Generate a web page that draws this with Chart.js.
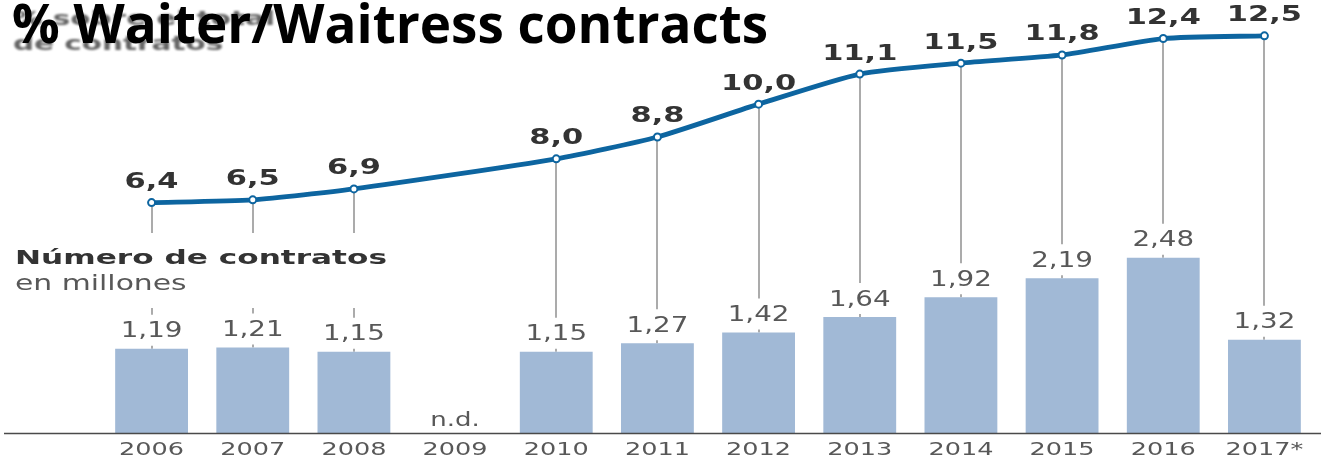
<!DOCTYPE html>
<html>
<head>
<meta charset="utf-8">
<script src="https://cdn.jsdelivr.net/npm/chart.js@4/dist/chart.umd.min.js"></script>
<style>
  html, body { margin: 0; padding: 0; background: #ffffff; }
  #wrap { position: relative; width: 1321px; height: 459px; }
</style>
</head>
<body>
<div id="wrap"><canvas id="chart" width="1321" height="459"></canvas></div>
<script>
// Years on the category axis
const years = ['2006', '2007', '2008', '2009', '2010', '2011', '2012', '2013', '2014', '2015', '2016', '2017*'];
// Share of all contracts (%) — no data for 2009
const sharePct = [6.4, 6.5, 6.9, null, 8.0, 8.8, 10.0, 11.1, 11.5, 11.8, 12.4, 12.5];
// Number of contracts, in millions — no data for 2009
const contractsM = [1.19, 1.21, 1.15, null, 1.15, 1.27, 1.42, 1.64, 1.92, 2.19, 2.48, 1.32];
// Label shown where a year has no data
const noDataLabel = 'n.d.';

const titleText = '% Waiter/Waitress contracts';
const subtitleLines = ['% sobre el total', 'de contratos'];
const barHeading = 'Número de contratos';
const barUnits = 'en millones';

const LINE_BLUE = '#0d65a0';
const BAR_BLUE = '#a1b9d6';
const DROP_GREY = '#ababab';
const TEXT_GREY = '#585858';
const DARK_TEXT = '#333333';

// Spanish decimal comma
function fmt(v, d) { return v.toFixed(d).replace('.', ','); }

// Text drawn with a horizontal stretch factor, centred or left-aligned
function stretchText(ctx, text, x, y, font, color, sx, align) {
  ctx.save();
  ctx.font = font;
  ctx.fillStyle = color;
  ctx.textBaseline = 'middle';
  ctx.textAlign = align || 'center';
  ctx.translate(x, y);
  ctx.scale(sx, 1);
  ctx.fillText(text, 0, 0);
  ctx.restore();
}

const LEGEND_X = 15;
const LEGEND_Y1 = 259;
const LEGEND_Y2 = 285;
const LEGEND_GAP = [233, 308];
const LEGEND_RIGHT = 400;

// Grey drop lines from each point of the line down to its bar
const dropLines = {
  id: 'dropLines',
  beforeDatasetsDraw(chart) {
    const ctx = chart.ctx;
    const x = chart.scales.x;
    const yL = chart.scales.yLine;
    const yB = chart.scales.yBar;
    ctx.save();
    ctx.strokeStyle = DROP_GREY;
    ctx.lineWidth = 2;
    years.forEach((_, i) => {
      if (sharePct[i] == null || contractsM[i] == null) return;
      const px = Math.round(x.getPixelForValue(i));
      const top = yL.getPixelForValue(sharePct[i]) + 4;
      const barTop = yB.getPixelForValue(contractsM[i]);
      const end = barTop - 34;
      const segs = [];
      if (px < LEGEND_RIGHT) {
        segs.push([top, LEGEND_GAP[0]]);
        segs.push([LEGEND_GAP[1], end]);
      } else {
        segs.push([top, end]);
      }
      segs.push([barTop - 3, barTop]);
      segs.forEach(([a, b]) => {
        if (b <= a) return;
        ctx.beginPath();
        ctx.moveTo(px, a);
        ctx.lineTo(px, b);
        ctx.stroke();
      });
    });
    ctx.restore();
  }
};

// Value labels, axis labels, headings and baseline
const annotations = {
  id: 'annotations',
  afterDatasetsDraw(chart) {
    const ctx = chart.ctx;
    const x = chart.scales.x;
    const yL = chart.scales.yLine;
    const yB = chart.scales.yBar;
    const base = yB.getPixelForValue(0);

    // baseline across the full width
    ctx.save();
    ctx.strokeStyle = '#4a4a4a';
    ctx.lineWidth = 1.5;
    ctx.beginPath();
    ctx.moveTo(4, base + 0.5);
    ctx.lineTo(chart.width, base + 0.5);
    ctx.stroke();
    ctx.restore();

    years.forEach((yr, i) => {
      const px = x.getPixelForValue(i);
      // category labels
      stretchText(ctx, yr, px, base + 17, '18px "DejaVu Sans"', TEXT_GREY, 1.42);
      if (contractsM[i] == null) {
        stretchText(ctx, noDataLabel, px, base - 12, '20px "DejaVu Sans"', TEXT_GREY, 1.3);
      } else {
        stretchText(ctx, fmt(contractsM[i], 2), px, yB.getPixelForValue(contractsM[i]) - 17,
          '21px "DejaVu Sans"', TEXT_GREY, 1.32);
      }
      if (sharePct[i] != null) {
        stretchText(ctx, fmt(sharePct[i], 1), px, yL.getPixelForValue(sharePct[i]) - 20,
          'bold 21px "DejaVu Sans"', DARK_TEXT, 1.45);
      }
    });

    // bar series heading
    stretchText(ctx, barHeading, LEGEND_X, LEGEND_Y1, 'bold 19px "DejaVu Sans"', DARK_TEXT, 1.64, 'left');
    stretchText(ctx, barUnits, LEGEND_X, LEGEND_Y2, '21px "DejaVu Sans"', TEXT_GREY, 1.42, 'left');

    // original subtitle, softened underneath the title
    ctx.save();
    ctx.filter = 'blur(1.2px)';
    stretchText(ctx, subtitleLines[0], 13, 20, 'bold 19px "DejaVu Sans"', '#666666', 1.55, 'left');
    stretchText(ctx, subtitleLines[1], 13, 45, 'bold 19px "DejaVu Sans"', '#666666', 1.55, 'left');
    ctx.restore();

    // title
    ctx.save();
    ctx.font = 'bold 53px "Open Sans"';
    ctx.fillStyle = '#000000';
    ctx.textAlign = 'left';
    ctx.textBaseline = 'alphabetic';
    ctx.fillText(titleText, 12, 43);
    ctx.restore();
  }
};

new Chart(document.getElementById('chart'), {
  type: 'bar',
  data: {
    labels: years,
    datasets: [
      {
        type: 'line',
        label: '% sobre el total de contratos',
        data: sharePct,
        yAxisID: 'yLine',
        borderColor: LINE_BLUE,
        borderWidth: 4.8,
        tension: 0.2,
        spanGaps: true,
        pointRadius: 3.5,
        pointBorderWidth: 2,
        pointBackgroundColor: '#ffffff',
        pointBorderColor: LINE_BLUE,
        order: 0
      },
      {
        type: 'bar',
        label: 'Número de contratos',
        data: contractsM,
        yAxisID: 'yBar',
        backgroundColor: BAR_BLUE,
        borderWidth: 0,
        categoryPercentage: 1.0,
        barPercentage: 0.72,
        order: 1
      }
    ]
  },
  options: {
    responsive: false,
    animation: false,
    layout: { autoPadding: false, padding: { left: 101, right: 6, top: 0, bottom: 26 } },
    plugins: { legend: { display: false }, tooltip: { enabled: false }, title: { display: false } },
    scales: {
      x: { display: false },
      yBar: { display: false, min: 0, max: 6.125 },
      yLine: { display: false, min: -2.03, max: 13.81 }
    }
  },
  plugins: [dropLines, annotations]
});
</script>
</body>
</html>
